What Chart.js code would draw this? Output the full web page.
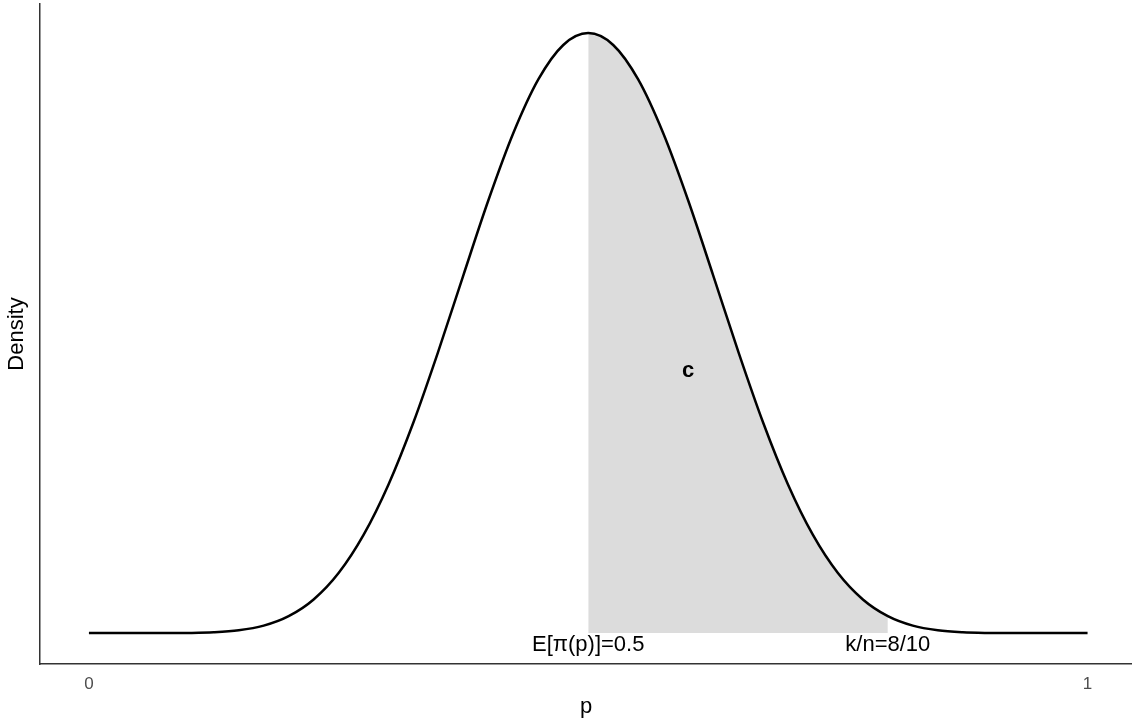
<!DOCTYPE html>
<html>
<head>
<meta charset="utf-8">
<script src="https://cdn.jsdelivr.net/npm/chart.js@4.4.1/dist/chart.umd.min.js"></script>
<style>
  html, body { margin: 0; padding: 0; background: #ffffff; }
  #wrap { width: 1132px; height: 722px; }
</style>
</head>
<body>
<div id="wrap"><canvas id="densityChart" width="1132" height="722"></canvas></div>
<script>
// density curve (peak at p = 0.5)
const pValues = [
  0, 0.025, 0.05, 0.075, 0.1, 0.125, 0.15, 0.175, 0.2, 0.225,
  0.25, 0.275, 0.3, 0.325, 0.35, 0.375, 0.4, 0.425, 0.45, 0.475,
  0.5,
  0.525, 0.55, 0.575, 0.6, 0.625, 0.65, 0.675, 0.7, 0.725, 0.75,
  0.775, 0.8, 0.825, 0.85, 0.875, 0.9, 0.925, 0.95, 0.975, 1
];
const density = [
  0, 0, 0, 0.0001, 0.0009, 0.0045, 0.0153, 0.0413, 0.094, 0.187,
  0.334, 0.546, 0.827, 1.173, 1.570, 1.992, 2.408, 2.782, 3.080, 3.272,
  3.338,
  3.272, 3.080, 2.782, 2.408, 1.992, 1.570, 1.173, 0.827, 0.546, 0.334,
  0.187, 0.094, 0.0413, 0.0153, 0.0045, 0.0009, 0.0001, 0, 0, 0
];

// shaded region between the prior mean and the observed share
const shadeFrom = 0.5;
const shadeTo = 0.8;

const xTicks = [0, 1];

const notes = [
  { p: 0.5, y: -0.067, text: "E[\u03c0(p)]=0.5", bold: false },
  { p: 0.8, y: -0.067, text: "k/n=8/10", bold: false },
  { p: 0.6, y: 1.46, text: "c", bold: true }
];

const curve = pValues.map((p, i) => ({ x: p, y: density[i] }));
const shade = curve.filter(pt => pt.x >= shadeFrom && pt.x <= shadeTo);

const FONT = "'Liberation Sans', Arial, sans-serif";

const notesPlugin = {
  id: "notes",
  afterDatasetsDraw(chart) {
    const { ctx, scales } = chart;
    ctx.save();
    ctx.fillStyle = "#000000";
    ctx.textAlign = "center";
    ctx.textBaseline = "middle";
    notes.forEach(n => {
      ctx.font = (n.bold ? "bold " : "") + "22px " + FONT;
      ctx.fillText(n.text, scales.x.getPixelForValue(n.p), scales.y.getPixelForValue(n.y));
    });
    ctx.restore();
  }
};

new Chart(document.getElementById("densityChart").getContext("2d"), {
  type: "line",
  data: {
    datasets: [
      {
        label: "density",
        data: curve,
        borderColor: "#000000",
        borderWidth: 2.5,
        pointRadius: 0,
        fill: false,
        cubicInterpolationMode: "monotone"
      },
      {
        label: "area",
        data: shade,
        borderWidth: 0,
        borderColor: "rgba(0,0,0,0)",
        backgroundColor: "#dcdcdc",
        pointRadius: 0,
        fill: "origin",
        cubicInterpolationMode: "monotone"
      }
    ]
  },
  options: {
    responsive: false,
    animation: false,
    devicePixelRatio: 1,
    layout: { padding: { top: 4, right: 0, bottom: 0, left: 0 } },
    plugins: {
      legend: { display: false },
      tooltip: { enabled: false }
    },
    scales: {
      x: {
        type: "linear",
        min: -0.049,
        max: 1.0445,
        grid: { display: false, drawTicks: false },
        border: { display: true, color: "#333333", width: 1.5 },
        afterBuildTicks: s => { s.ticks = xTicks.map(v => ({ value: v })); },
        ticks: {
          color: "#4d4d4d",
          padding: 10,
          maxRotation: 0,
          font: { family: FONT, size: 17 }
        },
        title: {
          display: true,
          text: "p",
          color: "#000000",
          font: { family: FONT, size: 22 },
          padding: { top: 0, bottom: 2 }
        },
        afterFit: s => { s.height = 58; }
      },
      y: {
        type: "linear",
        min: -0.172,
        max: 3.5,
        grid: { display: false, drawTicks: false },
        border: { display: true, color: "#333333", width: 1.5 },
        ticks: { display: false },
        title: {
          display: true,
          text: "Density",
          color: "#000000",
          font: { family: FONT, size: 22 },
          padding: { top: 4, bottom: 0 }
        },
        afterFit: s => { s.width = 40; }
      }
    }
  },
  plugins: [notesPlugin]
});
</script>
</body>
</html>
